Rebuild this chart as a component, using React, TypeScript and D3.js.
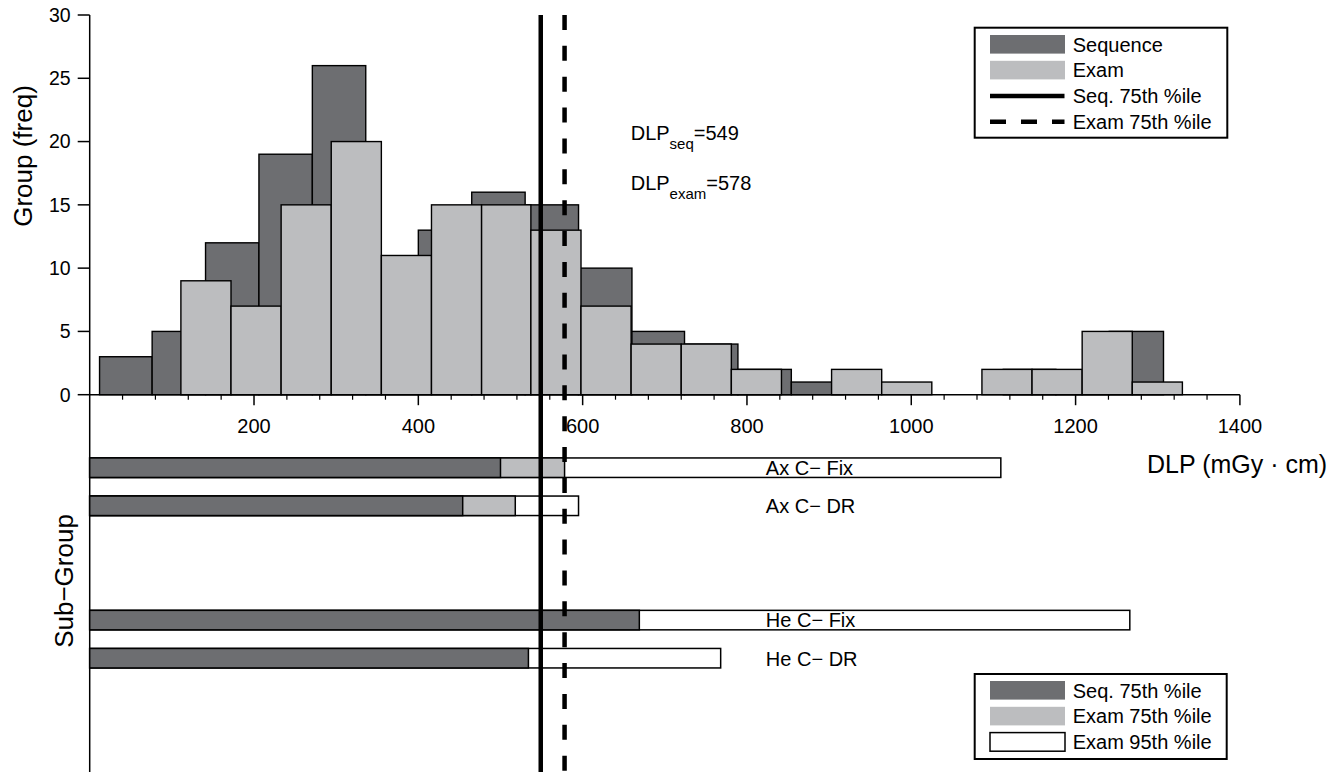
import React from "react";
import * as d3 from "d3";

// ---------- data ----------
const seqBinEdges = [12, 76, 141, 206, 271, 336, 400, 465, 530, 595, 660, 724, 789, 854, 918, 982, 1047, 1112, 1176, 1241, 1307];
const seqCounts = [3, 5, 12, 19, 26, 10, 13, 16, 15, 10, 5, 4, 2, 1, 0, 0, 0, 2, 1, 5];
const examBinEdges = [111, 172, 233, 294, 355, 416, 477, 537, 598, 659, 720, 781, 842, 903, 964, 1025, 1086, 1147, 1208, 1269, 1330];
const examCounts = [9, 7, 15, 20, 11, 15, 15, 13, 7, 4, 4, 2, 0, 2, 1, 0, 2, 2, 5, 1];

const xMajorTicks = [200, 400, 600, 800, 1000, 1200, 1400];
const yTicks = [0, 5, 10, 15, 20, 25, 30];

const seqP75 = 549;
const examP75 = 578;

const subGroupSlots = ["Ax C\u2212 Fix", "Ax C\u2212 DR", "slot3", "slot4", "He C\u2212 Fix", "He C\u2212 DR"];
const subGroups = ["Ax C\u2212 Fix", "Ax C\u2212 DR", "He C\u2212 Fix", "He C\u2212 DR"];
const subSeq75 = [500, 454, 669, 534];
const subExam75: (number | null)[] = [578, 518, null, null];
const subExam95 = [1109, 595, 1266, 768];

const histLegend = ["Sequence", "Exam", "Seq. 75th %ile", "Exam 75th %ile"];
const barLegend = ["Seq. 75th %ile", "Exam 75th %ile", "Exam 95th %ile"];

// ---------- style ----------
const W = 1343;
const H = 772;
const DARK = "#6d6e71";
const LIGHT = "#bcbdbf";
const FONT = "'Liberation Sans', Arial, Helvetica, sans-serif";

export default function App() {
  const x = d3.scaleLinear().domain([0, 1400]).range([89.7, 1239.9]);
  const y = d3.scaleLinear().domain([0, 30]).range([394.7, 15]);
  const ySub = d3.scalePoint<string>().domain(subGroupSlots).range([467.7, 658.2]);
  const barH = 19.5;
  const minorTicks = d3.range(40, 1401, 40).filter((v) => v % 200 !== 0);
  const labelX = x(823);

  const bins = (edges: number[], counts: number[]) =>
    counts.map((c, i) => ({ x0: edges[i], x1: edges[i + 1], c }));

  const seqBins = bins(seqBinEdges, seqCounts);
  const examBins = bins(examBinEdges, examCounts);

  const legendRowY = (i: number) => 44.3 + i * 25.8;
  const legend2RowY = (i: number) => 690.3 + i * 25.8;

  return (
    <svg
      width={W}
      height={H}
      style={{ position: "absolute", left: 0, top: 0, background: "#fff" }}
      fontFamily={FONT}
    >
      <rect x={0} y={0} width={W} height={H} fill="#fff" />

      {/* histogram: sequence */}
      {seqBins.map((b, i) => (
        <rect
          key={"s" + i}
          x={x(b.x0)}
          y={y(b.c)}
          width={x(b.x1) - x(b.x0)}
          height={y(0) - y(b.c)}
          fill={DARK}
          stroke="#000"
          strokeWidth={1.4}
        />
      ))}
      {/* histogram: exam */}
      {examBins.map((b, i) => (
        <rect
          key={"e" + i}
          x={x(b.x0)}
          y={y(b.c)}
          width={x(b.x1) - x(b.x0)}
          height={y(0) - y(b.c)}
          fill={LIGHT}
          stroke="#000"
          strokeWidth={1.4}
        />
      ))}

      {/* x axis */}
      <line x1={x(0)} x2={x(1400)} y1={y(0)} y2={y(0)} stroke="#000" strokeWidth={1.5} />
      {minorTicks.map((v) => (
        <line key={"m" + v} x1={x(v)} x2={x(v)} y1={y(0)} y2={y(0) + 5} stroke="#000" strokeWidth={1.2} />
      ))}
      {xMajorTicks.map((v) => (
        <g key={"M" + v}>
          <line x1={x(v)} x2={x(v)} y1={y(0)} y2={y(0) + 10.5} stroke="#000" strokeWidth={1.5} />
          <text x={x(v)} y={433.3} fontSize={20} textAnchor="middle" fill="#000">
            {v}
          </text>
        </g>
      ))}
      <text x={1147} y={473.3} fontSize={25} fill="#000">
        DLP (mGy · cm)
      </text>

      {/* y axis */}
      <line x1={x(0)} x2={x(0)} y1={y(30)} y2={H} stroke="#000" strokeWidth={1.5} />
      {yTicks.map((v) => (
        <g key={"y" + v}>
          <line x1={x(0) - 12} x2={x(0)} y1={y(v)} y2={y(v)} stroke="#000" strokeWidth={1.5} />
          <text x={70.7} y={y(v) + 6.8} fontSize={19.5} textAnchor="end" fill="#000">
            {v}
          </text>
        </g>
      ))}
      <text
        transform={`translate(31.5, 156) rotate(-90)`}
        fontSize={26}
        textAnchor="middle"
        fill="#000"
      >
        Group (freq)
      </text>
      <text
        transform={`translate(73, 581) rotate(-90)`}
        fontSize={26}
        textAnchor="middle"
        fill="#000"
      >
        Sub{"\u2212"}Group
      </text>

      {/* annotations */}
      <text x={630.7} y={140} fontSize={20} fill="#000">
        DLP
        <tspan fontSize={15} dy={9}>seq</tspan>
        <tspan dy={-9}>={seqP75}</tspan>
      </text>
      <text x={630.7} y={190} fontSize={20} fill="#000">
        DLP
        <tspan fontSize={15} dy={9}>exam</tspan>
        <tspan dy={-9}>={examP75}</tspan>
      </text>

      {/* sub-group bars */}
      {subGroups.map((g, i) => {
        const cy = ySub(g) as number;
        const top = cy - barH / 2;
        const e75 = subExam75[i];
        return (
          <g key={"sg" + i}>
            <rect x={x(0)} y={top} width={x(subExam95[i]) - x(0)} height={barH} fill="#fff" stroke="#000" strokeWidth={1.5} />
            {e75 !== null && (
              <rect x={x(0)} y={top} width={x(e75) - x(0)} height={barH} fill={LIGHT} stroke="#000" strokeWidth={1.5} />
            )}
            <rect x={x(0)} y={top} width={x(subSeq75[i]) - x(0)} height={barH} fill={DARK} stroke="#000" strokeWidth={1.5} />
            <text x={labelX} y={cy + 7.3} fontSize={20} fill="#000">
              {g}
            </text>
          </g>
        );
      })}

      {/* percentile lines */}
      <line x1={x(seqP75)} x2={x(seqP75)} y1={y(30)} y2={H} stroke="#000" strokeWidth={4.5} />
      <line
        x1={x(examP75)}
        x2={x(examP75)}
        y1={y(30)}
        y2={H}
        stroke="#000"
        strokeWidth={4.5}
        strokeDasharray="15,15.86"
        strokeDashoffset={0}
      />

      {/* legend 1 */}
      <rect x={974.7} y={27.7} width={252.6} height={110} fill="#fff" stroke="#000" strokeWidth={2} />
      {histLegend.map((t, i) => {
        const cy = legendRowY(i);
        return (
          <g key={"l1" + i}>
            {i === 0 && <rect x={990} y={cy - 9.3} width={75} height={18.6} fill={DARK} />}
            {i === 1 && <rect x={990} y={cy - 9.3} width={75} height={18.6} fill={LIGHT} />}
            {i === 2 && <line x1={990} x2={1064.5} y1={cy} y2={cy} stroke="#000" strokeWidth={4.5} />}
            {i === 3 && (
              <line x1={990} x2={1064.5} y1={cy} y2={cy} stroke="#000" strokeWidth={4.5} strokeDasharray="16,15" />
            )}
            <text x={1072.7} y={cy + 7.3} fontSize={20} fill="#000">
              {t}
            </text>
          </g>
        );
      })}

      {/* legend 2 */}
      <rect x={974.7} y={674} width={252} height={85} fill="#fff" stroke="#000" strokeWidth={2} />
      {barLegend.map((t, i) => {
        const cy = legend2RowY(i);
        const fill = i === 0 ? DARK : i === 1 ? LIGHT : "#fff";
        return (
          <g key={"l2" + i}>
            <rect
              x={990}
              y={cy - 9.3}
              width={75}
              height={18.6}
              fill={fill}
              stroke={i === 2 ? "#000" : "none"}
              strokeWidth={1.5}
            />
            <text x={1072.7} y={cy + 7.3} fontSize={20} fill="#000">
              {t}
            </text>
          </g>
        );
      })}
    </svg>
  );
}
